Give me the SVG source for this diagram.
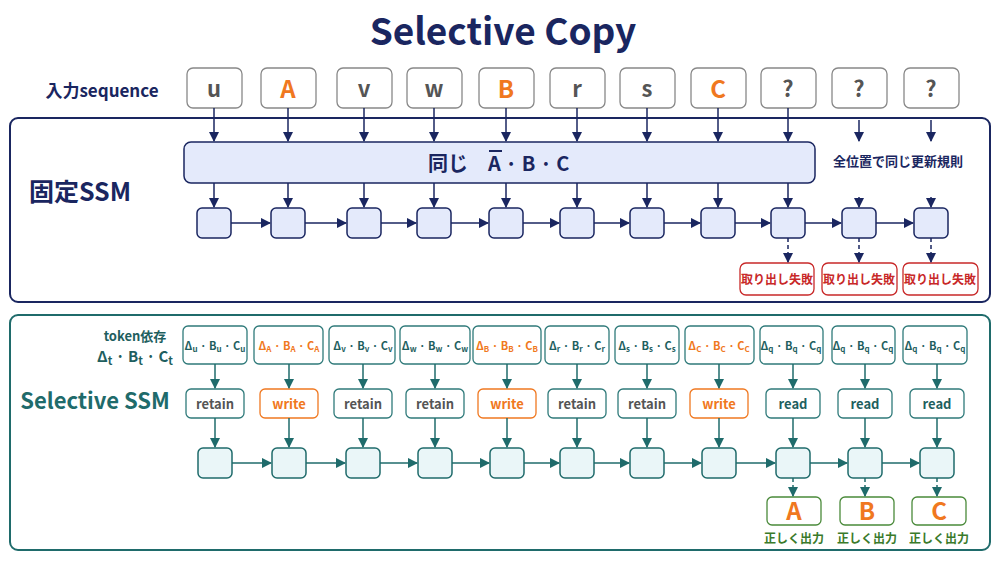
<svg xmlns="http://www.w3.org/2000/svg" width="1000" height="563" viewBox="0 0 1000 563">
<defs>
<marker id="an" viewBox="0 0 10 10" refX="9" refY="5" markerWidth="7" markerHeight="7" orient="auto"><path d="M0,0L10,5L0,10z" fill="#1a2660"/></marker>
<marker id="at" viewBox="0 0 10 10" refX="9" refY="5" markerWidth="7" markerHeight="7" orient="auto"><path d="M0,0L10,5L0,10z" fill="#1f6b6b"/></marker>
</defs>
<style>
text{font-family:"Noto Sans CJK JP","Noto Sans",sans-serif;text-anchor:middle}
.inp{fill:#fff;stroke:#888;stroke-width:1.3}
.st{fill:#e4eafb;stroke:#1a2660;stroke-width:1.5}
.sst{fill:#eaf6f8;stroke:#1f6b6b;stroke-width:1.5}
.pb{fill:#fff;stroke:#2f7a7a;stroke-width:1.3}
.ob{fill:#fff;stroke:#f07820;stroke-width:1.3}
.red{fill:#fff;stroke:#c82828;stroke-width:1.3}
.grn{fill:#fff;stroke:#4a8a3a;stroke-width:1.3}
.ln path{stroke:#1a2660;stroke-width:1.5;fill:none;marker-end:url(#an)}
.lt path{stroke:#1f6b6b;stroke-width:1.5;fill:none;marker-end:url(#at)}
path.d{stroke-dasharray:4 3}
.g{fill:#555;font-weight:700;font-size:22px}
.o{fill:#f07820;font-weight:700;font-size:24px}
.pt{font-size:11px;font-weight:700;fill:#1f5f5f}
.po{font-size:11px;font-weight:700;fill:#f07820}
</style>
<rect width="1000" height="563" fill="#fff"/>
<text x="503" y="45" font-size="37" font-weight="700" fill="#1a2660">Selective Copy</text>
<text x="102" y="97" font-size="17" font-weight="700" fill="#1a2660">入力sequence</text>
<g id="inputs">
<rect class="inp" x="187" y="68" width="55" height="40" rx="6"/><text x="214" y="97" class="g">u</text>
<rect class="inp" x="261" y="68" width="55" height="40" rx="6"/><text x="288" y="98" class="o">A</text>
<rect class="inp" x="337" y="68" width="55" height="40" rx="6"/><text x="364" y="97" class="g">v</text>
<rect class="inp" x="407" y="68" width="55" height="40" rx="6"/><text x="434" y="97" class="g">w</text>
<rect class="inp" x="479" y="68" width="55" height="40" rx="6"/><text x="506" y="98" class="o">B</text>
<rect class="inp" x="550" y="68" width="55" height="40" rx="6"/><text x="577" y="97" class="g">r</text>
<rect class="inp" x="620" y="68" width="55" height="40" rx="6"/><text x="647" y="97" class="g">s</text>
<rect class="inp" x="691" y="68" width="55" height="40" rx="6"/><text x="718" y="98" class="o">C</text>
<rect class="inp" x="761" y="68" width="55" height="40" rx="6"/><text x="788" y="97" class="g">?</text>
<rect class="inp" x="832" y="68" width="55" height="40" rx="6"/><text x="859" y="97" class="g">?</text>
<rect class="inp" x="904" y="68" width="55" height="40" rx="6"/><text x="931" y="97" class="g">?</text>
</g>
<g id="fixed">
<rect x="10" y="118" width="980" height="184" rx="8" fill="#fff" stroke="#1a2660" stroke-width="2"/>
<text x="80" y="201" font-size="25" font-weight="700" fill="#1a2660">固定SSM</text>
<rect x="184" y="142" width="631" height="41" rx="7" class="st"/>
<text x="448" y="171" font-size="20" font-weight="700" fill="#1a2660">同じ</text>
<text x="488" y="171" font-size="20" font-weight="700" fill="#1a2660" style="text-anchor:start">A · B · C</text>
<line x1="489" y1="151" x2="502" y2="151" stroke="#1a2660" stroke-width="2"/>
<text x="898" y="166" font-size="13" font-weight="700" fill="#1a2660">全位置で同じ更新規則</text>
<g class="st">
<rect x="197" y="208" width="34" height="30" rx="5"/><rect x="271" y="208" width="34" height="30" rx="5"/><rect x="347" y="208" width="34" height="30" rx="5"/><rect x="417" y="208" width="34" height="30" rx="5"/><rect x="489" y="208" width="34" height="30" rx="5"/><rect x="560" y="208" width="34" height="30" rx="5"/><rect x="630" y="208" width="34" height="30" rx="5"/><rect x="701" y="208" width="34" height="30" rx="5"/><rect x="771" y="208" width="34" height="30" rx="5"/><rect x="842" y="208" width="34" height="30" rx="5"/><rect x="914" y="208" width="34" height="30" rx="5"/>
</g>
<g font-size="12" font-weight="700" fill="#c82828">
<rect class="red" x="740" y="263" width="74" height="32" rx="6"/><text x="777" y="284">取り出し失敗</text>
<rect class="red" x="822" y="263" width="75" height="32" rx="6"/><text x="859" y="284">取り出し失敗</text>
<rect class="red" x="903" y="263" width="75" height="32" rx="6"/><text x="940" y="284">取り出し失敗</text>
</g>
</g>
<g id="selective">
<rect x="10" y="315" width="980" height="235" rx="8" fill="#fff" stroke="#1f6b6b" stroke-width="2"/>
<text x="135" y="341" font-size="13" font-weight="700" fill="#1f5f5f">token依存</text>
<text x="135" y="362" font-size="15" font-weight="700" fill="#1f5f5f">Δ<tspan font-size="11" dy="3">t</tspan><tspan dy="-3"> · B</tspan><tspan font-size="11" dy="3">t</tspan><tspan dy="-3"> · C</tspan><tspan font-size="11" dy="3">t</tspan></text>
<text x="95" y="409" font-size="22" font-weight="700" fill="#1f6b6b">Selective SSM</text>
<g>
<rect class="pb" x="183" y="326" width="64" height="38" rx="5"/><text x="215" y="350" class="pt">Δ<tspan font-size="8" dy="2">u</tspan><tspan dy="-2"> · B</tspan><tspan font-size="8" dy="2">u</tspan><tspan dy="-2"> · C</tspan><tspan font-size="8" dy="2">u</tspan></text>
<rect class="pb" x="254" y="326" width="69" height="38" rx="5"/><text x="289" y="350" class="po">Δ<tspan font-size="8" dy="2">A</tspan><tspan dy="-2"> · B</tspan><tspan font-size="8" dy="2">A</tspan><tspan dy="-2"> · C</tspan><tspan font-size="8" dy="2">A</tspan></text>
<rect class="pb" x="329" y="326" width="66" height="38" rx="5"/><text x="363" y="350" class="pt">Δ<tspan font-size="8" dy="2">v</tspan><tspan dy="-2"> · B</tspan><tspan font-size="8" dy="2">v</tspan><tspan dy="-2"> · C</tspan><tspan font-size="8" dy="2">v</tspan></text>
<rect class="pb" x="400" y="326" width="70" height="38" rx="5"/><text x="435" y="350" class="pt">Δ<tspan font-size="8" dy="2">w</tspan><tspan dy="-2"> · B</tspan><tspan font-size="8" dy="2">w</tspan><tspan dy="-2"> · C</tspan><tspan font-size="8" dy="2">w</tspan></text>
<rect class="pb" x="473" y="326" width="68" height="38" rx="5"/><text x="507" y="350" class="po">Δ<tspan font-size="8" dy="2">B</tspan><tspan dy="-2"> · B</tspan><tspan font-size="8" dy="2">B</tspan><tspan dy="-2"> · C</tspan><tspan font-size="8" dy="2">B</tspan></text>
<rect class="pb" x="545" y="326" width="64" height="38" rx="5"/><text x="577" y="350" class="pt">Δ<tspan font-size="8" dy="2">r</tspan><tspan dy="-2"> · B</tspan><tspan font-size="8" dy="2">r</tspan><tspan dy="-2"> · C</tspan><tspan font-size="8" dy="2">r</tspan></text>
<rect class="pb" x="615" y="326" width="64" height="38" rx="5"/><text x="647" y="350" class="pt">Δ<tspan font-size="8" dy="2">s</tspan><tspan dy="-2"> · B</tspan><tspan font-size="8" dy="2">s</tspan><tspan dy="-2"> · C</tspan><tspan font-size="8" dy="2">s</tspan></text>
<rect class="pb" x="685" y="326" width="69" height="38" rx="5"/><text x="719" y="350" class="po">Δ<tspan font-size="8" dy="2">C</tspan><tspan dy="-2"> · B</tspan><tspan font-size="8" dy="2">C</tspan><tspan dy="-2"> · C</tspan><tspan font-size="8" dy="2">C</tspan></text>
<rect class="pb" x="760" y="326" width="63" height="38" rx="5"/><text x="791" y="350" class="pt">Δ<tspan font-size="8" dy="2">q</tspan><tspan dy="-2"> · B</tspan><tspan font-size="8" dy="2">q</tspan><tspan dy="-2"> · C</tspan><tspan font-size="8" dy="2">q</tspan></text>
<rect class="pb" x="832" y="326" width="63" height="38" rx="5"/><text x="863" y="350" class="pt">Δ<tspan font-size="8" dy="2">q</tspan><tspan dy="-2"> · B</tspan><tspan font-size="8" dy="2">q</tspan><tspan dy="-2"> · C</tspan><tspan font-size="8" dy="2">q</tspan></text>
<rect class="pb" x="903" y="326" width="64" height="38" rx="5"/><text x="935" y="350" class="pt">Δ<tspan font-size="8" dy="2">q</tspan><tspan dy="-2"> · B</tspan><tspan font-size="8" dy="2">q</tspan><tspan dy="-2"> · C</tspan><tspan font-size="8" dy="2">q</tspan></text>
</g>
<g font-size="13" font-weight="700">
<rect class="pb" x="186" y="389" width="58" height="29" rx="5"/><text x="215" y="409" fill="#555">retain</text>
<rect class="ob" x="260" y="389" width="58" height="29" rx="5"/><text x="289" y="409" fill="#f07820">write</text>
<rect class="pb" x="334" y="389" width="58" height="29" rx="5"/><text x="363" y="409" fill="#555">retain</text>
<rect class="pb" x="406" y="389" width="58" height="29" rx="5"/><text x="435" y="409" fill="#555">retain</text>
<rect class="ob" x="478" y="389" width="58" height="29" rx="5"/><text x="507" y="409" fill="#f07820">write</text>
<rect class="pb" x="548" y="389" width="58" height="29" rx="5"/><text x="577" y="409" fill="#555">retain</text>
<rect class="pb" x="618" y="389" width="58" height="29" rx="5"/><text x="647" y="409" fill="#555">retain</text>
<rect class="ob" x="690" y="389" width="58" height="29" rx="5"/><text x="719" y="409" fill="#f07820">write</text>
<rect class="pb" x="766" y="389" width="54" height="29" rx="5"/><text x="793" y="409" fill="#1f5f5f">read</text>
<rect class="pb" x="838" y="389" width="54" height="29" rx="5"/><text x="865" y="409" fill="#1f5f5f">read</text>
<rect class="pb" x="910" y="389" width="54" height="29" rx="5"/><text x="937" y="409" fill="#1f5f5f">read</text>
</g>
<g class="sst">
<rect x="198" y="448" width="34" height="30" rx="5"/><rect x="272" y="448" width="34" height="30" rx="5"/><rect x="346" y="448" width="34" height="30" rx="5"/><rect x="418" y="448" width="34" height="30" rx="5"/><rect x="490" y="448" width="34" height="30" rx="5"/><rect x="560" y="448" width="34" height="30" rx="5"/><rect x="630" y="448" width="34" height="30" rx="5"/><rect x="702" y="448" width="34" height="30" rx="5"/><rect x="776" y="448" width="34" height="30" rx="5"/><rect x="848" y="448" width="34" height="30" rx="5"/><rect x="920" y="448" width="34" height="30" rx="5"/>
</g>
<rect class="grn" x="767" y="497" width="54" height="28" rx="5"/><text x="794" y="520" class="o">A</text>
<rect class="grn" x="840" y="497" width="54" height="28" rx="5"/><text x="867" y="520" class="o">B</text>
<rect class="grn" x="912" y="497" width="54" height="28" rx="5"/><text x="939" y="520" class="o">C</text>
<g font-size="12" font-weight="700" fill="#3a7a2a"><text x="794" y="543">正しく出力</text><text x="867" y="543">正しく出力</text><text x="939" y="543">正しく出力</text></g>
</g>
<g id="connectors">
<g class="ln">
<path d="M214,108V141"/><path d="M288,108V141"/><path d="M364,108V141"/><path d="M434,108V141"/><path d="M506,108V141"/><path d="M577,108V141"/><path d="M647,108V141"/><path d="M718,108V141"/><path d="M788,108V141"/><path d="M859,120V141"/><path d="M931,120V141"/>
<path d="M214,183V207"/><path d="M288,183V207"/><path d="M364,183V207"/><path d="M434,183V207"/><path d="M506,183V207"/><path d="M577,183V207"/><path d="M647,183V207"/><path d="M718,183V207"/><path d="M788,183V207"/><path d="M859,197V207"/><path d="M931,197V207"/>
<path d="M231,223H270"/><path d="M305,223H346"/><path d="M381,223H416"/><path d="M451,223H488"/><path d="M523,223H559"/><path d="M594,223H629"/><path d="M664,223H700"/><path d="M735,223H770"/><path d="M805,223H841"/><path d="M876,223H913"/>
<path class="d" d="M788,238V262"/><path class="d" d="M859,238V262"/><path class="d" d="M931,238V262"/>
</g>
<g class="lt">
<path d="M215,364V388"/><path d="M289,364V388"/><path d="M363,364V388"/><path d="M435,364V388"/><path d="M507,364V388"/><path d="M577,364V388"/><path d="M647,364V388"/><path d="M719,364V388"/><path d="M793,364V388"/><path d="M865,364V388"/><path d="M937,364V388"/>
<path d="M215,418V447"/><path d="M289,418V447"/><path d="M363,418V447"/><path d="M435,418V447"/><path d="M507,418V447"/><path d="M577,418V447"/><path d="M647,418V447"/><path d="M719,418V447"/><path d="M793,418V447"/><path d="M865,418V447"/><path d="M937,418V447"/>
<path d="M232,463H271"/><path d="M306,463H345"/><path d="M380,463H417"/><path d="M452,463H489"/><path d="M524,463H559"/><path d="M594,463H629"/><path d="M664,463H701"/><path d="M736,463H775"/><path d="M810,463H847"/><path d="M882,463H919"/>
<path class="d" d="M793,478V496"/><path class="d" d="M865,478V496"/><path class="d" d="M937,478V496"/>
</g>
</g>
</svg>
